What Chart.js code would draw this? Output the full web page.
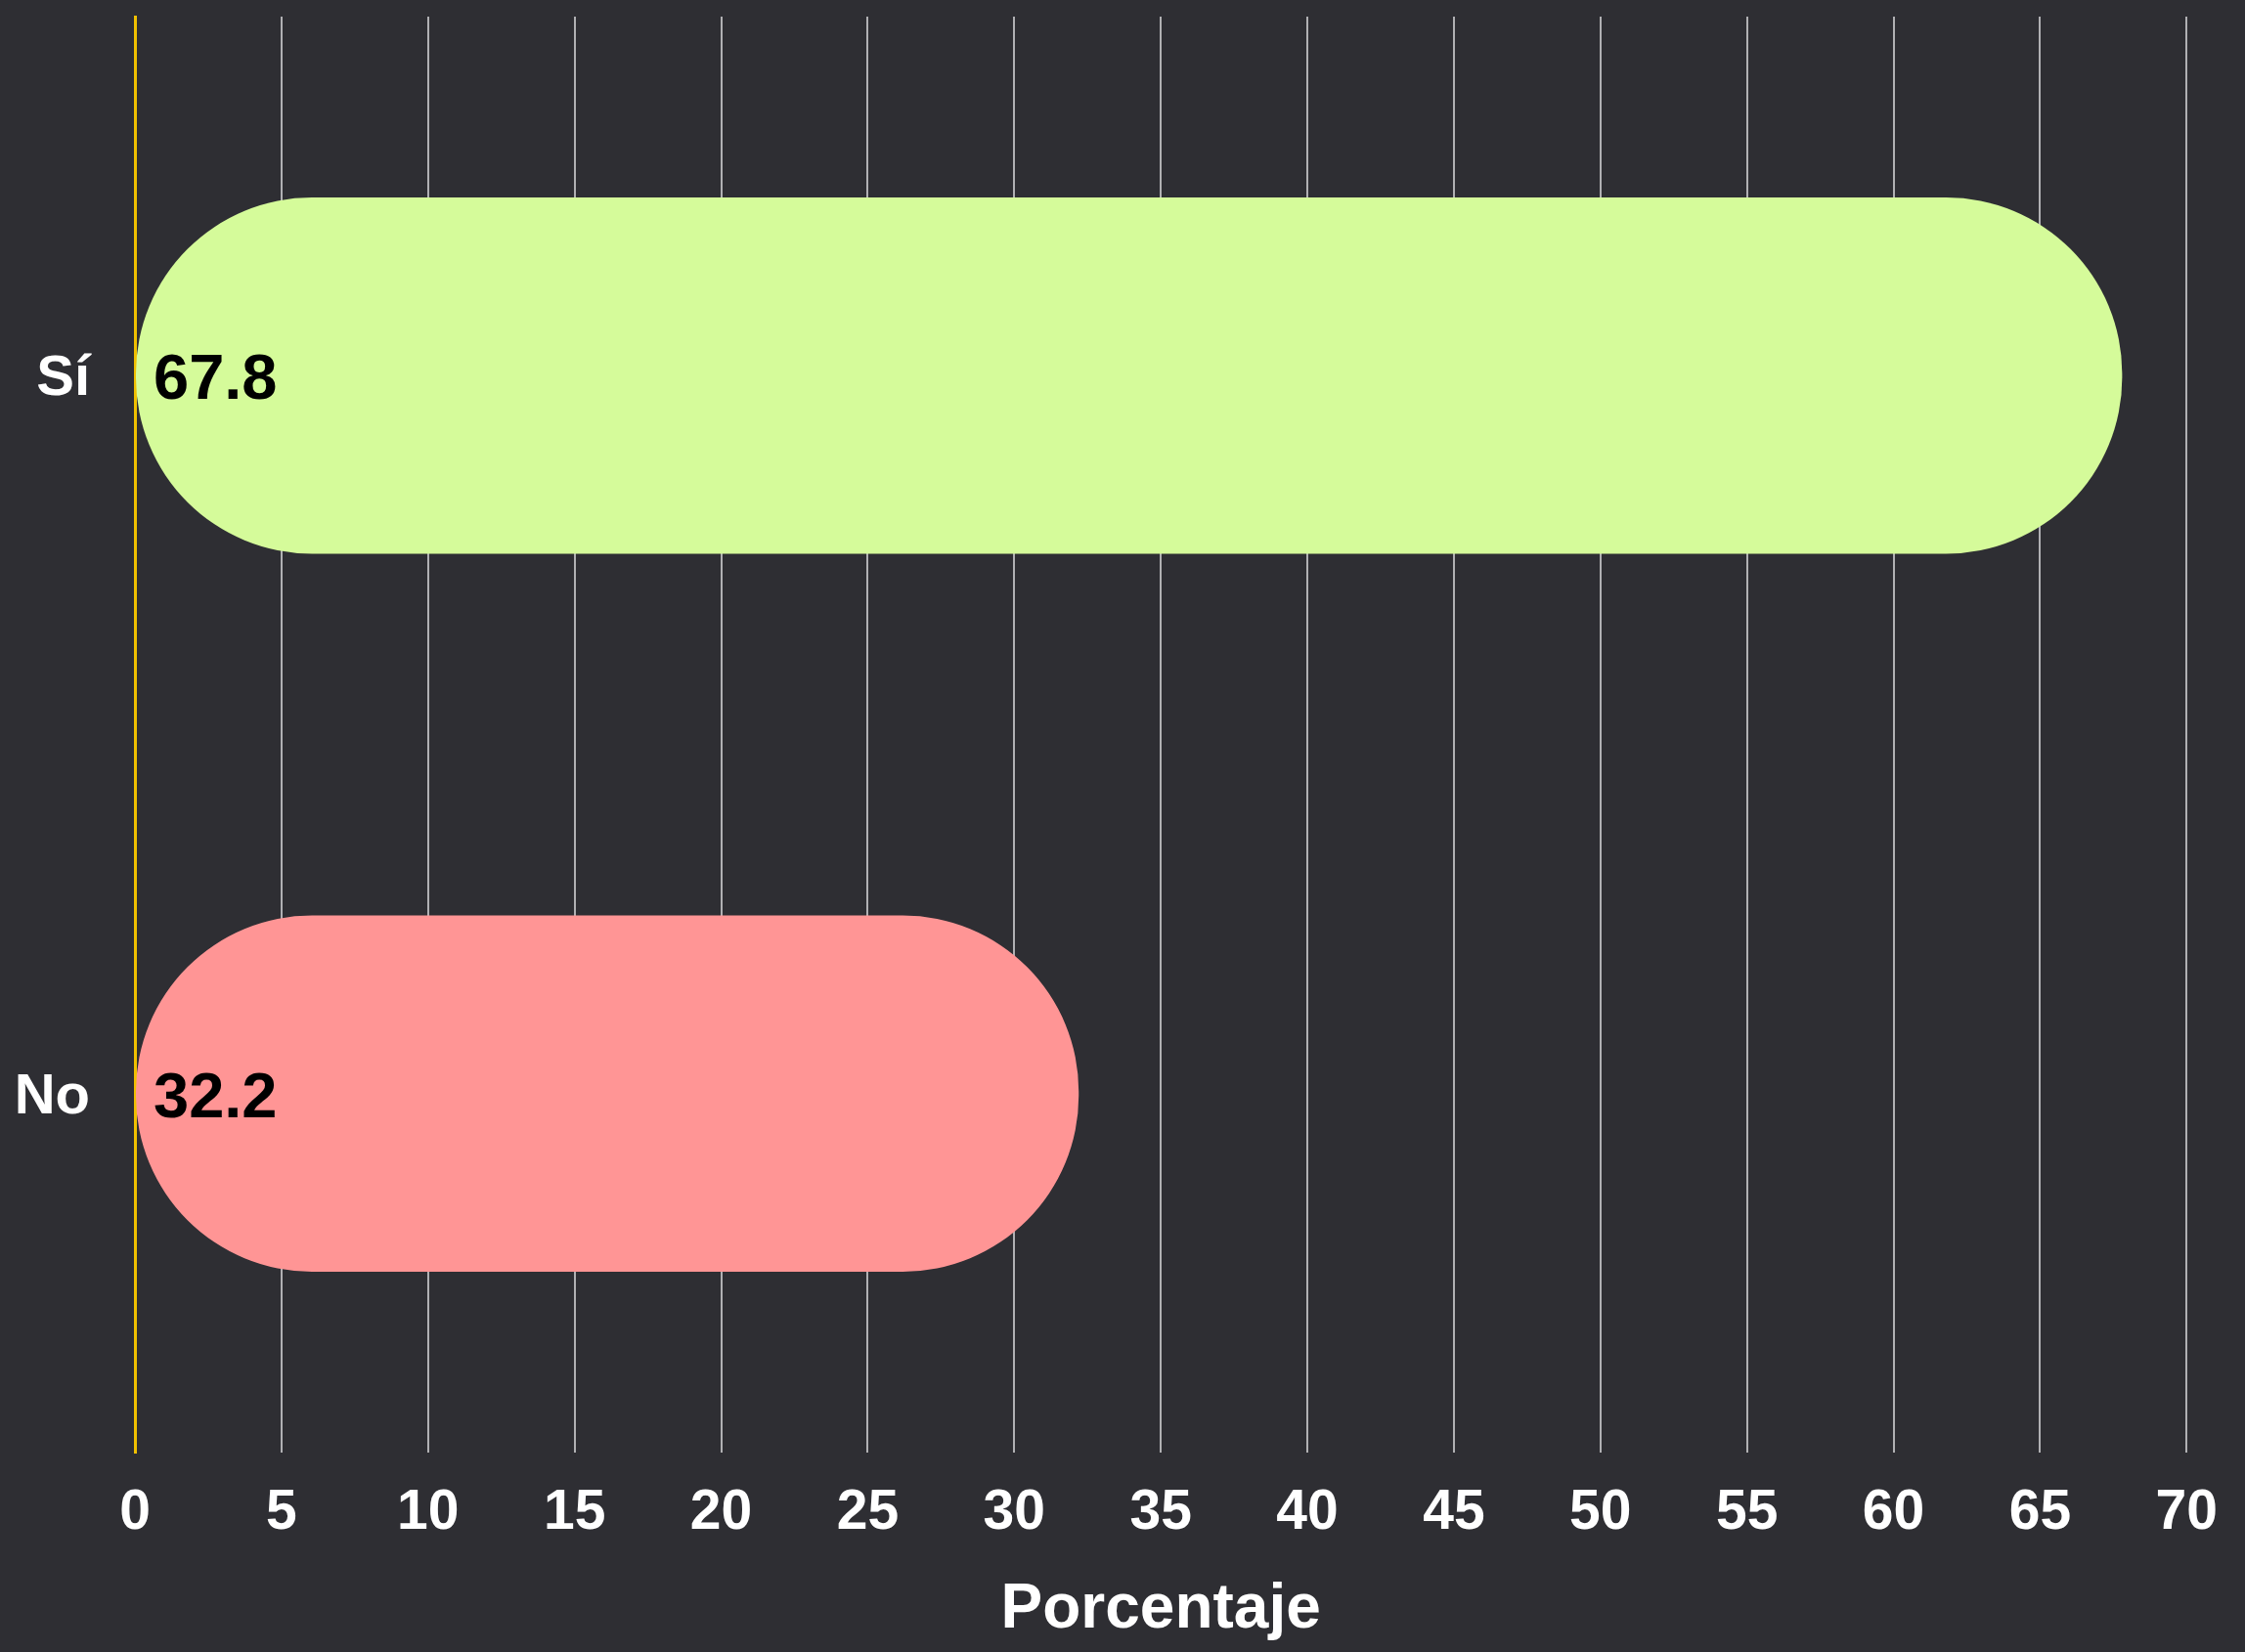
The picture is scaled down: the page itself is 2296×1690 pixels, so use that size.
<!DOCTYPE html>
<html>
<head>
<meta charset="utf-8">
<script src="https://cdn.jsdelivr.net/npm/chart.js@4"></script>
<style>
  html, body { margin: 0; padding: 0; background: #2e2e33; }
  #wrap { width: 2296px; height: 1690px; position: relative; }
</style>
</head>
<body>
<div id="wrap"><canvas id="chart"></canvas></div>
<script>
// Datos
const categories = ['Sí', 'No'];
const values = [67.8, 32.2];
const barColors = ['#d5fb9a', '#ff9595'];
const axisTitle = 'Porcentaje';

const FONT = '"Liberation Sans", Arial, Helvetica, sans-serif';

// etiquetas de valor dentro de la barra, al inicio
const valueLabels = {
  id: 'valueLabels',
  afterDatasetsDraw(chart) {
    const ctx = chart.ctx;
    const meta = chart.getDatasetMeta(0);
    const x0 = chart.scales.x.getPixelForValue(0);
    ctx.save();
    ctx.font = 'bold 65px ' + FONT;
    ctx.fillStyle = '#000';
    ctx.textAlign = 'left';
    ctx.textBaseline = 'middle';
    meta.data.forEach((bar, i) => {
      ctx.fillText(values[i].toFixed(1), x0 + 19, bar.y + 6);
    });
    ctx.restore();
  }
};

new Chart(document.getElementById('chart'), {
  type: 'bar',
  data: {
    labels: categories,
    datasets: [{
      data: values,
      backgroundColor: barColors,
      borderWidth: 0,
      borderRadius: 180,
      borderSkipped: false,
      categoryPercentage: 0.8,
      barPercentage: 0.62
    }]
  },
  options: {
    indexAxis: 'y',
    responsive: true,
    maintainAspectRatio: false,
    animation: false,
    layout: { padding: { top: 17, right: 59, left: 0, bottom: 0 } },
    plugins: {
      legend: { display: false },
      tooltip: { enabled: false }
    },
    scales: {
      x: {
        min: 0,
        max: 70,
        ticks: {
          stepSize: 5,
          color: '#ffffff',
          padding: 28,
          font: { family: FONT, size: 57, weight: 'bold' }
        },
        grid: {
          color: ctx => ctx.tick && ctx.tick.value === 0 ? 'rgba(0,0,0,0)' : '#b0b0b3',
          lineWidth: 2,
          drawTicks: false
        },
        border: { display: false },
        title: {
          display: true,
          text: axisTitle,
          color: '#ffffff',
          padding: { top: 0, bottom: 4 },
          font: { family: FONT, size: 64, weight: 'bold' }
        },
        afterFit(scale) { scale.height = 204; }
      },
      y: {
        ticks: {
          color: '#ffffff',
          padding: 38,
          labelOffset: 4,
          font: { family: FONT, size: 58, weight: 'bold' }
        },
        grid: { display: false },
        border: { display: true, color: '#f0c000', width: 3 },
        afterFit(scale) {
          scale.width = 138;
          scale.paddingTop = 0;
          scale.paddingBottom = 0;
        }
      }
    }
  },
  plugins: [valueLabels]
});
</script>
</body>
</html>
